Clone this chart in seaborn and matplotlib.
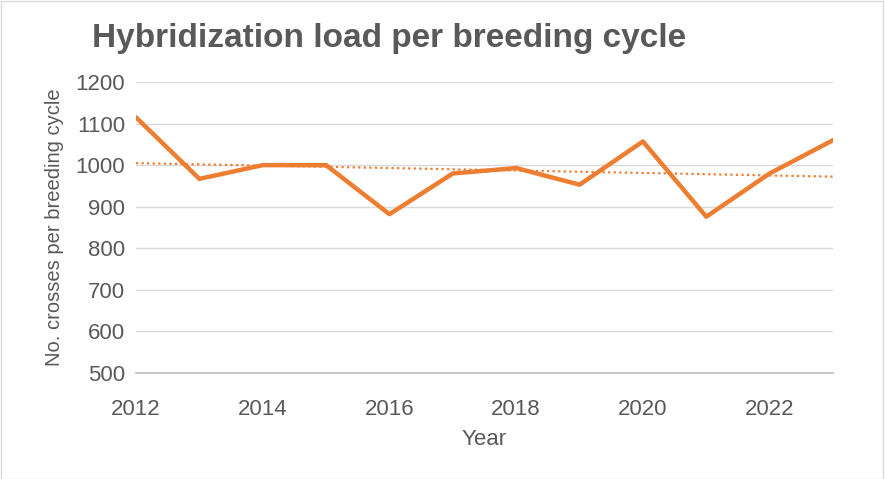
import matplotlib
matplotlib.use("Agg")
import matplotlib.pyplot as plt
import seaborn as sns
import numpy as np
import pandas as pd

years = [2012, 2013, 2014, 2015, 2016, 2017, 2018, 2019, 2020, 2021, 2022, 2023]
crosses = [1115, 967, 1000, 1000, 882, 980, 993, 953, 1057, 876, 980, 1060]
yticks = [500, 600, 700, 800, 900, 1000, 1100, 1200]
xticks = [2012, 2014, 2016, 2018, 2020, 2022]

sns.set_theme(style="white")
plt.rcParams['font.family'] = ['Liberation Sans', 'DejaVu Sans']
color = "#ED7D31"
grey = "#595959"

df = pd.DataFrame({"Year": years, "Crosses": crosses})
fig = plt.figure(figsize=(8.85, 4.79), dpi=100)
ax = fig.add_axes([136/885, 1-373/479, (833-136)/885, (373-82)/479])

sns.lineplot(data=df, x="Year", y="Crosses", ax=ax, color=color, linewidth=3.2)
coef = np.polyfit(years, crosses, 1)
trend = np.polyval(coef, years)
sns.lineplot(x=years, y=trend, ax=ax, color=color, linewidth=1.6, linestyle=(0, (1, 1.5)))

ax.set_xlim(2012, 2023)
ax.set_ylim(500, 1200)
ax.set_yticks(yticks)
ax.set_xticks(xticks)
ax.grid(axis="y", color="#D9D9D9", linewidth=1)
for s in ["top", "right", "left"]:
    ax.spines[s].set_visible(False)
ax.spines["bottom"].set_color("#BFBFBF")
ax.tick_params(axis="both", colors=grey, labelsize=16, length=0)
ax.tick_params(axis="x", pad=19)
ax.tick_params(axis="y", pad=8)
ax.set_xlabel("Year", fontsize=16, color=grey, labelpad=6)
ax.set_ylabel("No. crosses per breeding cycle", fontsize=14.5, color=grey, labelpad=8)
fig.text(92/885, 1-38/479, "Hybridization load per breeding cycle", fontsize=24,
         fontweight="bold", color=grey, va="center", ha="left")
fig.patches.append(plt.Rectangle((0.001, 0.001), 0.997, 0.997, transform=fig.transFigure,
                                 fill=False, edgecolor="#D9D9D9", linewidth=1))
fig.savefig("out.png", dpi=100, facecolor="white")
